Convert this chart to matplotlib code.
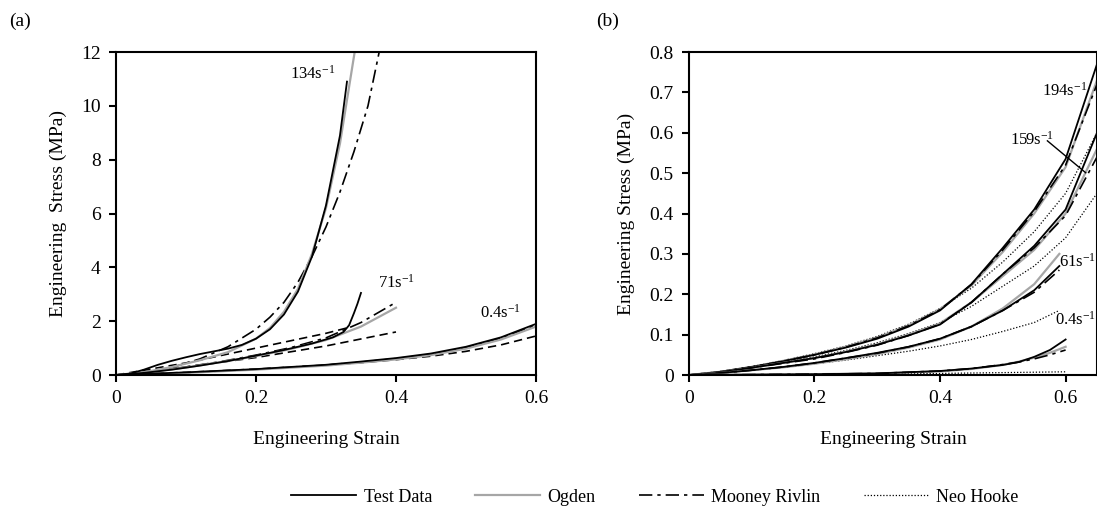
import matplotlib.pyplot as plt
from matplotlib.lines import Line2D

plt.rcParams["font.family"] = ["Liberation Serif", "DejaVu Serif"]
plt.rcParams["font.size"] = 14

# (a) stress in MPa
a_134_test_x = [0, 0.02, 0.04, 0.06, 0.08, 0.10, 0.12, 0.14, 0.16, 0.18, 0.20, 0.22, 0.24, 0.26, 0.28, 0.30, 0.32, 0.33]
a_134_test_y = [0, 0.05, 0.2, 0.38, 0.53, 0.66, 0.78, 0.88, 0.98, 1.12, 1.35, 1.7, 2.25, 3.1, 4.4, 6.3, 8.9, 10.9]
a_134_ogden_x = [0, 0.04, 0.08, 0.12, 0.16, 0.2, 0.22, 0.24, 0.26, 0.28, 0.30, 0.32, 0.341]
a_134_ogden_y = [0, 0.1, 0.3, 0.55, 0.85, 1.35, 1.75, 2.35, 3.2, 4.5, 6.2, 8.6, 12.0]
a_134_mooney_x = [0, 0.04, 0.08, 0.12, 0.16, 0.2, 0.22, 0.24, 0.26, 0.28, 0.30, 0.32, 0.34, 0.36, 0.376]
a_134_mooney_y = [0, 0.08, 0.28, 0.6, 1.05, 1.7, 2.15, 2.7, 3.45, 4.4, 5.5, 6.8, 8.3, 10.0, 12.0]
a_134_neo_x = [0, 0.1, 0.2, 0.3, 0.33]
a_134_neo_y = [0, 0.45, 1.0, 1.55, 1.75]

a_71_test_x = [0, 0.04, 0.08, 0.12, 0.16, 0.2, 0.24, 0.28, 0.31, 0.325, 0.333, 0.34, 0.345, 0.35]
a_71_test_y = [0, 0.08, 0.2, 0.35, 0.52, 0.72, 0.93, 1.17, 1.4, 1.6, 1.85, 2.3, 2.65, 3.05]
a_71_fit_x = [0, 0.05, 0.1, 0.15, 0.2, 0.25, 0.3, 0.35, 0.4]
a_71_ogden_y = [0, 0.12, 0.28, 0.48, 0.7, 0.97, 1.3, 1.8, 2.5]
a_71_mooney_y = [0, 0.13, 0.3, 0.5, 0.74, 1.02, 1.38, 1.95, 2.7]
a_71_neo_x = [0, 0.1, 0.2, 0.3, 0.4]
a_71_neo_y = [0, 0.3, 0.65, 1.08, 1.6]

a_04_x = [0, 0.1, 0.2, 0.3, 0.35, 0.4, 0.45, 0.5, 0.55, 0.6]
a_04_test_y = [0, 0.1, 0.22, 0.38, 0.5, 0.63, 0.8, 1.05, 1.4, 1.9]
a_04_ogden_y = [0, 0.08, 0.2, 0.35, 0.46, 0.58, 0.74, 0.98, 1.32, 1.8]
a_04_mooney_y = [0, 0.09, 0.21, 0.37, 0.48, 0.61, 0.77, 1.01, 1.36, 1.85]
a_04_neo_y = [0, 0.1, 0.22, 0.37, 0.46, 0.57, 0.7, 0.88, 1.12, 1.45]

# (b) stress in MPa
b_hi_x = [0, 0.05, 0.1, 0.15, 0.2, 0.25, 0.3, 0.35, 0.4, 0.45, 0.5, 0.55, 0.6, 0.65]
b_194_test_y = [0, 0.008, 0.02, 0.034, 0.05, 0.068, 0.09, 0.12, 0.16, 0.225, 0.315, 0.41, 0.535, 0.77]
b_194_ogden_y = [0, 0.008, 0.02, 0.035, 0.051, 0.07, 0.093, 0.123, 0.163, 0.222, 0.305, 0.4, 0.515, 0.73]
b_194_mooney_y = [0, 0.008, 0.02, 0.034, 0.05, 0.069, 0.092, 0.122, 0.162, 0.224, 0.31, 0.405, 0.52, 0.72]
b_194_neo_y = [0, 0.009, 0.021, 0.036, 0.053, 0.072, 0.096, 0.126, 0.165, 0.215, 0.28, 0.355, 0.45, 0.6]
b_159_test_y = [0, 0.007, 0.018, 0.03, 0.042, 0.057, 0.075, 0.098, 0.125, 0.18, 0.25, 0.32, 0.41, 0.6]
b_159_ogden_y = [0, 0.007, 0.018, 0.03, 0.042, 0.058, 0.076, 0.1, 0.128, 0.18, 0.245, 0.31, 0.4, 0.56]
b_159_mooney_y = [0, 0.007, 0.018, 0.029, 0.04, 0.056, 0.074, 0.098, 0.126, 0.18, 0.25, 0.315, 0.395, 0.54]
b_159_neo_y = [0, 0.008, 0.02, 0.032, 0.045, 0.061, 0.08, 0.103, 0.13, 0.17, 0.22, 0.27, 0.34, 0.45]

b_61_x = [0, 0.05, 0.1, 0.15, 0.2, 0.25, 0.3, 0.35, 0.4, 0.45, 0.5, 0.55, 0.59]
b_61_test_y = [0, 0.005, 0.012, 0.02, 0.03, 0.042, 0.055, 0.07, 0.09, 0.12, 0.16, 0.21, 0.27]
b_61_ogden_y = [0, 0.005, 0.012, 0.019, 0.028, 0.039, 0.052, 0.068, 0.088, 0.12, 0.165, 0.225, 0.3]
b_61_mooney_y = [0, 0.005, 0.012, 0.02, 0.03, 0.042, 0.054, 0.07, 0.09, 0.12, 0.16, 0.205, 0.26]
b_61_neo_y = [0, 0.005, 0.012, 0.019, 0.028, 0.037, 0.048, 0.059, 0.072, 0.088, 0.108, 0.13, 0.16]

b_04_x = [0, 0.1, 0.2, 0.3, 0.4, 0.45, 0.5, 0.525, 0.55, 0.575, 0.6]
b_04_test_y = [0, 0.001, 0.002, 0.004, 0.01, 0.016, 0.025, 0.032, 0.045, 0.062, 0.088]
b_04_ogden_y = [0, 0.001, 0.002, 0.004, 0.009, 0.015, 0.025, 0.033, 0.043, 0.055, 0.07]
b_04_mooney_y = [0, 0.001, 0.002, 0.004, 0.01, 0.016, 0.026, 0.032, 0.04, 0.05, 0.062]
b_04_neo_y = [0, 0.001, 0.002, 0.003, 0.004, 0.005, 0.006, 0.0065, 0.007, 0.0075, 0.008]

test_kw = dict(color="black", lw=1.3, ls="-")
ogden_kw = dict(color="#a6a6a6", lw=1.6, ls="-")
mooney_kw = dict(color="black", lw=1.2, ls=(0, (8, 3, 2, 3)))
neo_dot_kw = dict(color="black", lw=0.9, ls=(0, (1, 1.5)))
neo_dash_kw = dict(color="black", lw=1.2, ls=(0, (5, 3)))


def rate(value):
    return r"$\mathregular{" + value + "s^{-1}}$"


fig = plt.figure(figsize=(10.97, 5.18), dpi=100)
ax_a = fig.add_axes([0.1057, 0.276, 0.3829, 0.6236])
ax_b = fig.add_axes([0.628, 0.276, 0.372, 0.6236])

# (a)
for xs, ys in [(a_134_neo_x, a_134_neo_y), (a_71_neo_x, a_71_neo_y), (a_04_x, a_04_neo_y)]:
    ax_a.plot(xs, ys, **neo_dash_kw)
for xs, ys in [(a_134_mooney_x, a_134_mooney_y), (a_71_fit_x, a_71_mooney_y), (a_04_x, a_04_mooney_y)]:
    ax_a.plot(xs, ys, **mooney_kw)
for xs, ys in [(a_134_ogden_x, a_134_ogden_y), (a_71_fit_x, a_71_ogden_y), (a_04_x, a_04_ogden_y)]:
    ax_a.plot(xs, ys, **ogden_kw)
for xs, ys in [(a_134_test_x, a_134_test_y), (a_71_test_x, a_71_test_y), (a_04_x, a_04_test_y)]:
    ax_a.plot(xs, ys, **test_kw)

ax_a.set_xlim(0, 0.6)
ax_a.set_ylim(0, 12)
ax_a.set_xticks([0, 0.2, 0.4, 0.6])
ax_a.set_xticklabels(["0", "0.2", "0.4", "0.6"])
ax_a.set_yticks(range(0, 13, 2))
ax_a.set_xlabel("Engineering Strain", labelpad=17)
ax_a.set_ylabel("Engineering  Stress (MPa)", labelpad=10)
ax_a.text(0.249, 11.18, rate("134"), fontsize=12, va="center")
ax_a.text(0.374, 3.42, rate("71"), fontsize=12, va="center")
ax_a.text(0.52, 2.3, rate("0.4"), fontsize=12, va="center")

# (b)
groups = [(b_hi_x, b_194_test_y, b_194_ogden_y, b_194_mooney_y, b_194_neo_y),
          (b_hi_x, b_159_test_y, b_159_ogden_y, b_159_mooney_y, b_159_neo_y),
          (b_61_x, b_61_test_y, b_61_ogden_y, b_61_mooney_y, b_61_neo_y),
          (b_04_x, b_04_test_y, b_04_ogden_y, b_04_mooney_y, b_04_neo_y)]
for xs, t, o, m, n in groups:
    ax_b.plot(xs, n, **neo_dot_kw)
    ax_b.plot(xs, o, **ogden_kw)
    ax_b.plot(xs, m, **mooney_kw)
    ax_b.plot(xs, t, **test_kw)

ax_b.set_xlim(0, 0.65)
ax_b.set_ylim(0, 0.8)
ax_b.set_xticks([0, 0.2, 0.4, 0.6])
ax_b.set_xticklabels(["0", "0.2", "0.4", "0.6"])
ax_b.set_yticks([0, 0.1, 0.2, 0.3, 0.4, 0.5, 0.6, 0.7, 0.8])
ax_b.set_yticklabels(["0", "0.1", "0.2", "0.3", "0.4", "0.5", "0.6", "0.7", "0.8"])
ax_b.set_xlabel("Engineering Strain", labelpad=17)
ax_b.set_ylabel("Engineering Stress (MPa)", labelpad=10)
ax_b.text(0.563, 0.703, rate("194"), fontsize=12, va="center")
ax_b.text(0.511, 0.582, rate("159"), fontsize=12, va="center")
ax_b.plot([0.571, 0.632], [0.58, 0.501], color="black", lw=1.0)
ax_b.text(0.59, 0.28, rate("61"), fontsize=12, va="center")
ax_b.text(0.583, 0.136, rate("0.4"), fontsize=12, va="center")

for ax in (ax_a, ax_b):
    for side in ax.spines.values():
        side.set_linewidth(1.5)
    ax.tick_params(direction="out", length=5, width=1.5, pad=6)

fig.text(0.008, 0.95, "(a)", fontsize=14)
fig.text(0.543, 0.95, "(b)", fontsize=14)

handles = [Line2D([], [], **test_kw), Line2D([], [], **ogden_kw),
           Line2D([], [], **mooney_kw), Line2D([], [], **neo_dot_kw)]
fig.legend(handles, ["Test Data", "Ogden", "Mooney Rivlin", "Neo Hooke"],
           loc="center", bbox_to_anchor=(0.597, 0.04), ncol=4, frameon=False,
           fontsize=13, handlelength=3.6, handletextpad=0.4, columnspacing=2.4)

fig.savefig("out.png", dpi=100)
